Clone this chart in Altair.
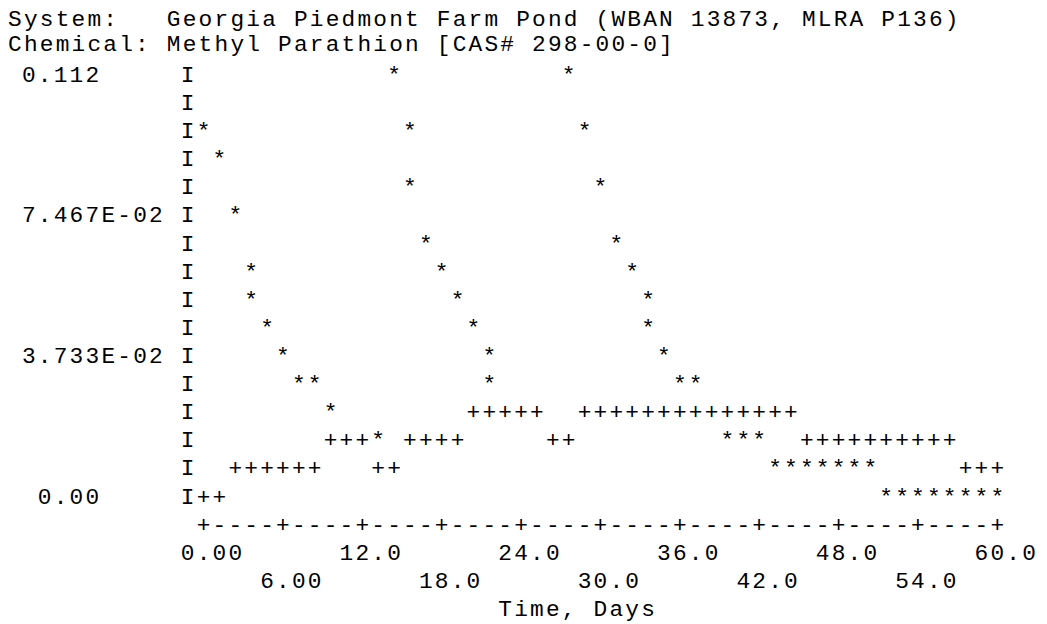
import altair as alt
import pandas as pd

# ---------------- data ----------------
title_lines = [
    "System:   Georgia Piedmont Farm Pond (WBAN 13873, MLRA P136)",
    "Chemical: Methyl Parathion [CAS# 298-00-0]",
]
x_title = "Time, Days"

# '*' series (days, concentration)
star_days = [0.0, 1.2, 2.4, 3.6, 3.6, 4.8, 6.0, 7.2, 8.4, 9.6, 13.2,
             14.4, 15.6, 15.6, 16.8, 18.0, 19.2, 20.4, 21.6, 21.6,
             27.6, 28.8, 30.0, 31.2, 32.4, 33.6, 33.6, 34.8, 36.0, 37.2,
             39.6, 40.8, 42.0,
             43.2, 44.4, 45.6, 46.8, 48.0, 49.2, 50.4,
             51.6, 52.8, 54.0, 55.2, 56.4, 57.6, 58.8, 60.0]
star_conc = [0.0971, 0.0896, 0.0747, 0.0597, 0.0523, 0.0448, 0.0373, 0.0299, 0.0299, 0.0224, 0.0149,
             0.1120, 0.0971, 0.0821, 0.0672, 0.0597, 0.0523, 0.0448, 0.0373, 0.0299,
             0.1120, 0.0971, 0.0821, 0.0672, 0.0597, 0.0523, 0.0448, 0.0373, 0.0299, 0.0299,
             0.0149, 0.0149, 0.0149,
             0.0075, 0.0075, 0.0075, 0.0075, 0.0075, 0.0075, 0.0075,
             0.0, 0.0, 0.0, 0.0, 0.0, 0.0, 0.0, 0.0]

# '+' series (days, concentration)
plus_days = [0.0, 1.2, 2.4, 3.6, 4.8, 6.0, 7.2, 8.4, 9.6, 10.8, 12.0, 13.2, 14.4,
             15.6, 16.8, 18.0, 19.2, 20.4, 21.6, 22.8, 24.0, 25.2, 26.4, 27.6,
             28.8, 30.0, 31.2, 32.4, 33.6, 34.8, 36.0, 37.2, 38.4, 39.6, 40.8,
             42.0, 43.2, 44.4, 45.6, 46.8, 48.0, 49.2, 50.4, 51.6, 52.8, 54.0,
             55.2, 56.4, 57.6, 58.8, 60.0]
plus_conc = [0.0, 0.0, 0.0075, 0.0075, 0.0075, 0.0075, 0.0075, 0.0075, 0.0149, 0.0149, 0.0149, 0.0075, 0.0075,
             0.0149, 0.0149, 0.0149, 0.0149, 0.0224, 0.0224, 0.0224, 0.0224, 0.0224, 0.0149, 0.0149,
             0.0224, 0.0224, 0.0224, 0.0224, 0.0224, 0.0224, 0.0224, 0.0224, 0.0224, 0.0224, 0.0224,
             0.0224, 0.0224, 0.0224, 0.0149, 0.0149, 0.0149, 0.0149, 0.0149, 0.0149, 0.0149, 0.0149,
             0.0149, 0.0149, 0.0075, 0.0075, 0.0075]

y_tick_values = [0.112, 0.07467, 0.03733, 0.0]
y_tick_labels = ["0.112", "7.467E-02", "3.733E-02", " 0.00"]
x_tick_values = [0, 6, 12, 18, 24, 30, 36, 42, 48, 54, 60]
x_tick_labels = ["0.00", "6.00", "12.0", "18.0", "24.0", "30.0",
                 "36.0", "42.0", "48.0", "54.0", "60.0"]
x_axis_line = "+----+----+----+----+----+----+----+----+----+----+"

# ---------------- character grid (line-printer layout) ----------------
YMAX = 0.112
NROWS = 15
ROW = YMAX / NROWS        # value per printed line
COL = 1.2                 # days per printed column
FONT = "Liberation Mono"
FS = 23


def explode(strings, x_starts, y_values):
    """Split printed strings into one glyph per printer column."""
    rows = []
    for s, x0, y in zip(strings, x_starts, y_values):
        for i, ch in enumerate(s):
            if ch != " ":
                rows.append({"x": x0 + i * COL, "y": y, "t": ch})
    return pd.DataFrame(rows)


xs = alt.Scale(domain=[0, 60], nice=False, zero=False)
ys = alt.Scale(domain=[0, YMAX], nice=False, zero=False)


def text_layer(df, dx=0, dy=0, text=None):
    kw = {"text": text} if text else {}
    m = alt.Chart(df).mark_text(font=FONT, fontSize=FS, color="black",
                                align="center", baseline="middle",
                                dx=dx, dy=dy, **kw)
    enc = dict(x=alt.X("x:Q", scale=xs, axis=None),
               y=alt.Y("y:Q", scale=ys, axis=None))
    if not text:
        enc["text"] = alt.Text("t:N")
    return m.encode(**enc)


stars = pd.DataFrame({"x": star_days, "y": star_conc})
pluses = pd.DataFrame({"x": plus_days, "y": plus_conc})

# y axis "I" column, one per printed line
ibar = pd.DataFrame({"x": [-COL] * (NROWS + 1),
                     "y": [YMAX - r * ROW for r in range(NROWS + 1)]})
ylab = explode(y_tick_labels, [-11 * COL] * 4, y_tick_values)
xline = explode([x_axis_line], [0.0], [-ROW])
xlab = explode(x_tick_labels, [v - COL for v in x_tick_values],
               [-2 * ROW if i % 2 == 0 else -3 * ROW for i in range(len(x_tick_values))])
xtit = explode([x_title], [19 * COL], [-4 * ROW])
ttl1 = explode(title_lines[:1], [-12 * COL], [YMAX + 2 * ROW])
ttl2 = explode(title_lines[1:], [-12 * COL], [YMAX + ROW])

chart = alt.layer(
    text_layer(ttl1, dx=2, dy=0),
    text_layer(ttl2, dx=2, dy=-2.5),
    text_layer(ibar, text="I"),
    text_layer(ylab),
    text_layer(xline),
    text_layer(xlab),
    text_layer(xtit),
    text_layer(pluses, text="+"),
    text_layer(stars, text="*"),
).properties(
    width=800, height=425,
    padding={"left": 197, "top": 65, "right": 42, "bottom": 135},
    autosize=alt.AutoSizeParams(type="none"),
).configure(background="white", view=alt.ViewConfig(stroke=None))

chart.save("out.html", embed_options={"renderer": "svg", "actions": False})
